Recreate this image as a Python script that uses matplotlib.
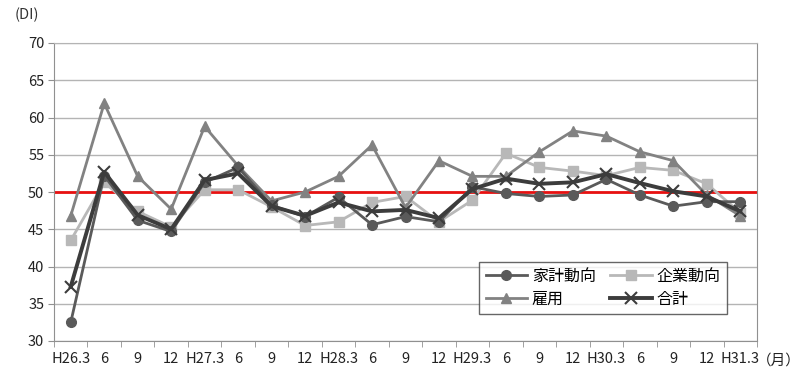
import matplotlib
matplotlib.use("Agg")
from matplotlib import pyplot as plt
import numpy as np

plt.rcParams['font.family'] = ['Noto Sans CJK JP', 'DejaVu Sans']

labels = ['H26.3', '6', '9', '12', 'H27.3', '6', '9', '12', 'H28.3', '6', '9', '12',
          'H29.3', '6', '9', '12', 'H30.3', '6', '9', '12', 'H31.3']

kakei = [32.5, 52.2, 46.2, 44.7, 51.3, 53.3, 48.2, 46.7, 49.3, 45.6, 46.7, 46.0,
         50.7, 49.8, 49.4, 49.6, 51.7, 49.6, 48.1, 48.7, 48.7]
kigyo = [43.5, 51.3, 47.4, 45.3, 50.3, 50.3, 48.0, 45.5, 46.0, 48.6, 49.4, 46.0,
         48.9, 55.2, 53.3, 52.8, 52.2, 53.3, 52.9, 51.1, 47.2]
koyo = [46.8, 61.9, 52.1, 47.7, 58.8, 53.5, 48.8, 50.0, 52.1, 56.3, 47.9, 54.2,
        52.1, 52.1, 55.4, 58.2, 57.5, 55.4, 54.2, 49.6, 46.8]
gokei = [37.3, 52.7, 46.9, 45.0, 51.6, 52.5, 48.1, 46.8, 48.6, 47.4, 47.6, 46.5,
         50.4, 51.8, 51.1, 51.3, 52.4, 51.2, 50.1, 49.4, 47.4]

x = np.arange(len(labels))

fig = plt.figure(figsize=(8, 3.79), dpi=100)
ax = fig.add_axes([54/800, 1 - 341/379, 703/800, 298/379])

ax.set_ylim(30, 70)
ax.set_xlim(-0.5, len(labels) - 0.5)
ax.set_yticks(range(30, 71, 5))
ax.yaxis.grid(True, color='#b4b4b4', linewidth=1)
ax.set_axisbelow(True)

ax.axhline(50, color='#e81010', linewidth=2, zorder=2)

l1, = ax.plot(x, kakei, color='#5a5a5a', linewidth=2, marker='o', markersize=7, label='家計動向', zorder=4)
l2, = ax.plot(x, kigyo, color='#b8b8b8', linewidth=2, marker='s', markersize=6.5, label='企業動向', zorder=3)
l3, = ax.plot(x, koyo, color='#828282', linewidth=2, marker='^', markersize=6.5, label='雇用', zorder=3)
l4, = ax.plot(x, gokei, color='#3c3c3c', linewidth=2.8, marker='x', markersize=9, markeredgewidth=1.5,
              label='合計', zorder=5)

ax.set_xticks(x)
ax.set_xticklabels(labels)
ax.set_xticks(np.arange(-0.5, len(labels), 1), minor=True)
ax.tick_params(axis='x', which='major', length=0, pad=8, labelsize=10.5, colors='#222222')
ax.tick_params(axis='x', which='minor', length=4, color='#909090')
ax.tick_params(axis='y', length=4, color='#909090', labelsize=10.5, colors='#222222', pad=3)
for s in ax.spines.values():
    s.set_color('#909090')
ax.spines['top'].set_color('#b4b4b4')

# legend order: row-wise like the original
leg = ax.legend([l1, l3, l2, l4], ['家計動向', '雇用', '企業動向', '合計'], ncol=2,
                loc='lower right', bbox_to_anchor=(681/703, 19/298), frameon=True,
                fancybox=False, edgecolor='#404040', fontsize=11.5, handlelength=2.6,
                handletextpad=0.3, columnspacing=0.9, borderpad=0.4, labelspacing=0.35)
leg.get_frame().set_linewidth(1)

fig.text(15/800, 1 - 15/379, '(DI)', fontsize=10.5, va='center', ha='left', color='#333333')
fig.text(757/800, 1 - 361/379, '（月）', fontsize=10.5, va='center', ha='left', color='#222222')

fig.savefig('out.png', dpi=100)
